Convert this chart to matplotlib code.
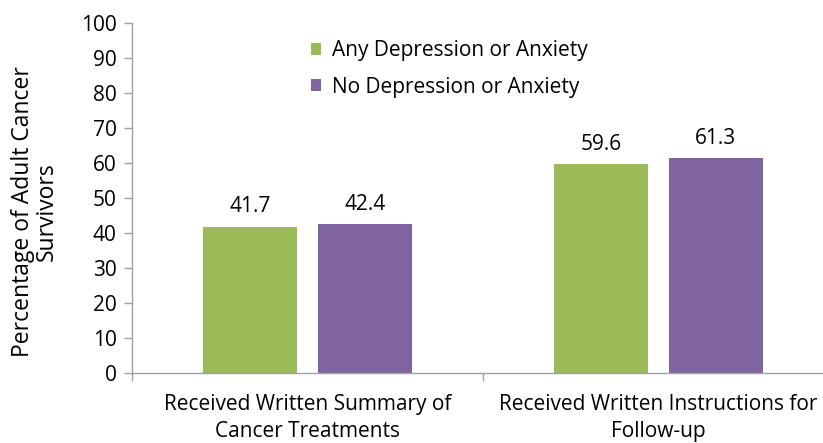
import matplotlib

matplotlib.use("Agg")
import matplotlib.pyplot as plt
import numpy as np

categories = ["Received Written Summary of\nCancer Treatments",
              "Received Written Instructions for\nFollow-up"]
series_names = ["Any Depression or Anxiety", "No Depression or Anxiety"]
any_dep = [41.7, 59.6]
no_dep = [42.4, 61.3]
colors = ["#9BBB59", "#8064A2"]
y_ticks = list(range(0, 101, 10))

plt.rcParams["font.family"] = ["Open Sans", "DejaVu Sans"]
FS = 15

fig = plt.figure(figsize=(8.23, 4.43), dpi=100, facecolor="white")
ax = fig.add_axes([0.1604, 0.1587, 0.853, 0.790])

x = np.arange(len(categories))
width = 0.268
offset = 0.163
for vals, name, color, dx in zip([any_dep, no_dep], series_names, colors, [-offset, offset]):
    bars = ax.bar(x + dx, vals, width, color=color, label=name, zorder=2)
    for b, v in zip(bars, vals):
        ax.text(b.get_x() + b.get_width() / 2, v + 2.7, f"{v:.1f}",
                ha="center", va="bottom", fontsize=FS, color="black")

ax.set_xlim(-0.5, 1.5)
ax.set_ylim(0, 100)
ax.set_yticks(y_ticks)
ax.set_xticks(x)
ax.set_xticklabels(categories, fontsize=FS, linespacing=1.4)
ax.set_xticks([-0.5, 0.5, 1.5], minor=True)
ax.tick_params(axis="x", which="major", length=0, pad=15)
ax.tick_params(axis="x", which="minor", length=6, color="#A0A0A0", width=1)
ax.tick_params(axis="y", labelsize=FS, length=6, color="#A0A0A0", width=1, pad=5)

for side in ["top", "right"]:
    ax.spines[side].set_visible(False)
for side in ["left", "bottom"]:
    ax.spines[side].set_color("#A0A0A0")
    ax.spines[side].set_linewidth(1)

ax.set_ylabel("Percentage of Adult Cancer\nSurvivors", fontsize=16.5, linespacing=1.0)
ax.yaxis.set_label_coords(-0.104, 0.46)

ax.legend(loc="upper left", bbox_to_anchor=(0.228, 1.004), frameon=False, fontsize=FS,
          handlelength=0.5, handleheight=0.5, handletextpad=0.5, labelspacing=0.75)

fig.savefig("out.png", dpi=100)
